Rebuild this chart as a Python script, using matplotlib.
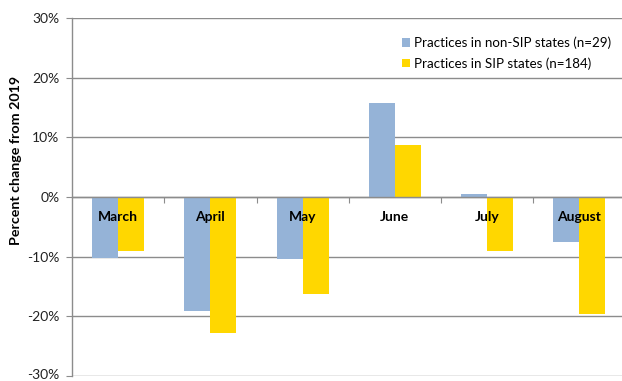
import matplotlib
matplotlib.use("Agg")
import matplotlib.pyplot as plt
import matplotlib.transforms as mtransforms
import numpy as np
from matplotlib.ticker import FuncFormatter, FixedLocator

months = ["March", "April", "May", "June", "July", "August"]
non_sip = [-10.2, -19.1, -10.4, 15.7, 0.5, -7.5]
sip = [-9.1, -22.8, -16.3, 8.7, -9.0, -19.6]
series_labels = ["Practices in non-SIP states (n=29)", "Practices in SIP states (n=184)"]
yticks = [-30, -20, -10, 0, 10, 20, 30]

blue = "#95B3D7"
yellow = "#FFD700"
grid_c = "#8c8c8c"

plt.rcParams['font.family'] = ['Lato', 'DejaVu Sans']

fig = plt.figure(figsize=(6.22, 3.81), dpi=100)
ax = fig.add_axes([72/622, 1-376/381, 553.5/622, (376-18)/381])
ax.set_axisbelow(False)

x = np.arange(len(months))
w = 0.282
ax.bar(x - w/2, non_sip, width=w, color=blue, label=series_labels[0], zorder=2)
ax.bar(x + w/2, sip, width=w, color=yellow, label=series_labels[1], zorder=2)

ax.set_xlim(-0.5, len(months) - 0.5)
ax.set_ylim(-30, 30)
ax.set_yticks(yticks)
ax.yaxis.set_major_formatter(FuncFormatter(lambda v, p: f"{int(v)}%"))
ax.tick_params(axis='y', length=4, width=0.8, color=grid_c, pad=5, labelsize=10, labelcolor="#222222")
for yv in yticks:
    ax.axhline(yv, color=grid_c, lw=1.0, zorder=1)

# keep the lowest tick label inside the canvas
low = ax.yaxis.get_major_ticks()[0].label1
low.set_transform(low.get_transform() + mtransforms.ScaledTranslation(0, 2/100, fig.dpi_scale_trans))

# x axis at zero
ax.spines['bottom'].set_position(('data', 0))
ax.spines['bottom'].set_color(grid_c)
ax.spines['bottom'].set_linewidth(1.0)
ax.spines['left'].set_color(grid_c)
ax.spines['left'].set_linewidth(1.0)
ax.spines['top'].set_visible(False)
ax.spines['right'].set_visible(False)

ax.xaxis.set_major_locator(FixedLocator(np.arange(0.5, len(months) - 0.5, 1)))
ax.xaxis.set_major_formatter(FuncFormatter(lambda v, p: ""))
ax.xaxis.set_minor_locator(FixedLocator(x))
ax.set_xticklabels(months, minor=True, fontweight='bold', fontsize=10)
ax.tick_params(axis='x', which='minor', length=0, pad=10)
ax.tick_params(axis='x', which='major', length=4, width=0.8, color=grid_c, direction='out')

ax.set_ylabel("Percent change from 2019", fontweight='bold', fontsize=10.3)
ax.yaxis.set_label_coords((22 - 72) / 553.5, (376 - 160) / 358)

leg = ax.legend(loc='upper left', bbox_to_anchor=(395/622, 1-30/381), bbox_transform=fig.transFigure,
                frameon=False, fontsize=9.6, handlelength=0.6, handleheight=0.6,
                handletextpad=0.35, labelspacing=0.6, borderpad=0)

fig.savefig("out.png", dpi=100)
